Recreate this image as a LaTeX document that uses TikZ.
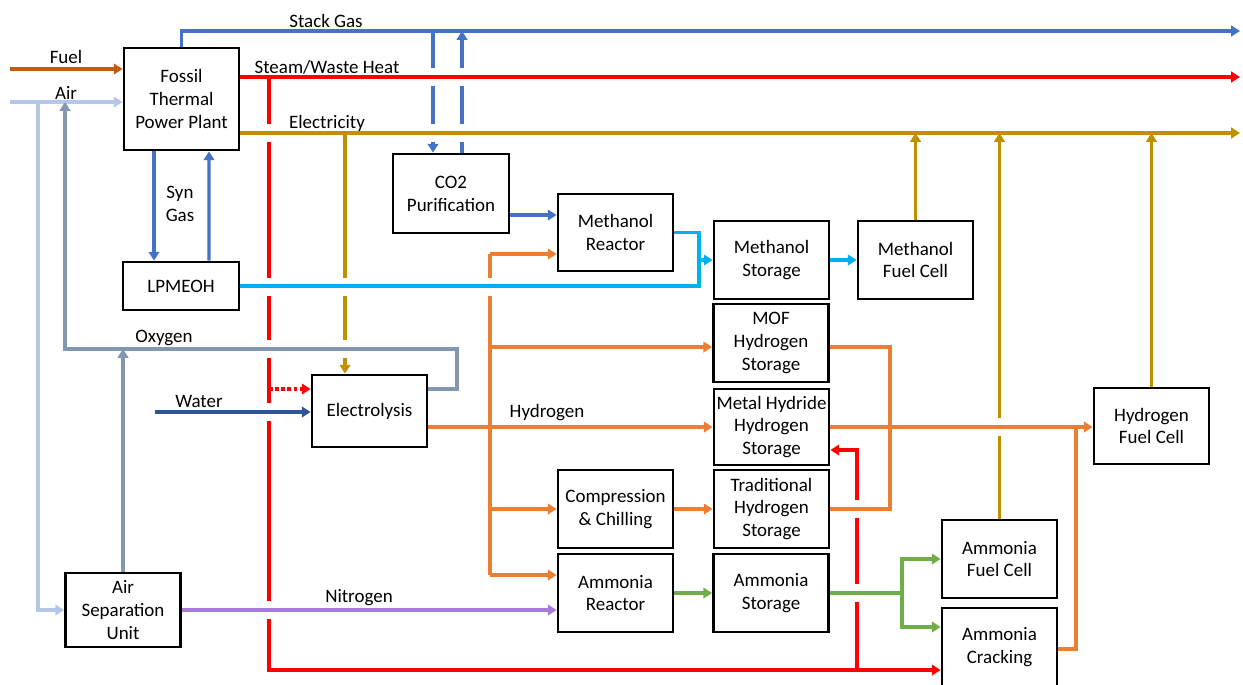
\documentclass[tikz,border=0pt]{standalone}
\usepackage{fontspec}
\setmainfont{Carlito}
\usepackage{tikz}
\usetikzlibrary{calc,arrows.meta}

\definecolor{stackblue}{HTML}{4472C4}
\definecolor{heatred}{HTML}{FF0000}
\definecolor{powergold}{HTML}{BF9000}
\definecolor{methcyan}{HTML}{00B0F0}
\definecolor{htwo}{HTML}{ED7D31}
\definecolor{nhthree}{HTML}{70AD47}
\definecolor{fuelbrown}{HTML}{C55A11}
\definecolor{airblue}{HTML}{B4C7E7}
\definecolor{oxgray}{HTML}{8497B0}
\definecolor{waterblue}{HTML}{2F5597}
\definecolor{ntwo}{HTML}{A97BD9}

\begin{document}
\begin{tikzpicture}[x=0.02cm,y=-0.02cm,
  every node/.style={font=\fontsize{10.8}{13}\selectfont},
  unit/.style={draw,line width=1.6pt,inner sep=0pt,align=center,minimum width=2.3cm,minimum height=1.56cm},
  flow/.style={line width=1.9pt},
  tip/.style={-{Triangle[length=5pt,width=6pt]}},
  lbl/.style={anchor=base,inner sep=0pt}]
\useasboundingbox (0,0) rectangle (1243,684);

%% units
\node[unit,minimum height=2.04cm] (fossil) at (181.5,99) {Fossil\\Thermal\\Power Plant};
\node[unit,minimum height=0.96cm,minimum width=2.32cm] (lpmeoh) at (181,286) {LPMEOH};
\node[unit,minimum width=2.32cm,minimum height=1.58cm] (co2) at (451,193.5) {CO2\\Purification};
\node[unit,minimum height=1.54cm] (mreact) at (615.5,232.5) {Methanol\\Reactor};
\node[unit] (mstore) at (771.5,260) {Methanol\\Storage};
\node[unit] (mfc) at (915.5,260) {Methanol\\Fuel Cell};
\node[unit] (mof) at (771,343) {MOF\\Hydrogen\\Storage};
\node[unit,minimum height=1.52cm] (mhyd) at (771.5,427) {Metal Hydride\\Hydrogen\\Storage};
\node[unit] (trad) at (771.5,509) {Traditional\\Hydrogen\\Storage};
\node[unit] (comp) at (615.5,509) {Compression\\\& Chilling};
\node[unit] (areact) at (615.5,593) {Ammonia\\Reactor};
\node[unit] (astore) at (771,593) {Ammonia\\Storage};
\node[unit,minimum height=1.44cm] (elec) at (369.5,411) {Electrolysis};
\node[unit,minimum height=1.48cm] (asu) at (123,610) {Air\\Separation\\Unit};
\node[unit] (afc) at (999.5,559) {Ammonia\\Fuel Cell};
\node[unit] (acrack) at (999.5,647) {Ammonia\\Cracking};
\node[unit,minimum height=1.52cm] (hfc) at (1151.5,426) {Hydrogen\\Fuel Cell};

%% free ends and bends
\coordinate (fuelin) at (10,69);
\coordinate (airin) at (10,102);
\coordinate (airdrop) at (38,102);
\coordinate (stackend) at (1240,31);
\coordinate (steamend) at (1240,77);
\coordinate (powerend) at (1240,133);
\coordinate (co2in) at (433,31);
\coordinate (co2out) at (462,31);
\coordinate (heattap) at (269,77);
\coordinate (heatbot) at (269,670);
\coordinate (eheat) at (269,389);
\coordinate (mhtap) at (857,670);
\coordinate (powertap) at (345,133);
\coordinate (mjoin) at (699,260);
\coordinate (oxyleft) at (65,349);
\coordinate (oxyright) at (457,349);
\coordinate (waterin) at (155,412);
\coordinate (htop) at (490,254);
\coordinate (hmof) at (490,347);
\coordinate (hbot) at (490,575);
\coordinate (hcol) at (890,509);
\coordinate (hcrack) at (1076,427);
\coordinate (nsplit) at (902,593);
\coordinate (co2m) at ($(co2.east)+(0,21.5)$);
\coordinate (oxyout) at ($(elec.east)+(0,-22)$);
\coordinate (hsrc) at ($(elec.east)+(0,16)$);

%% lines that get broken where others cross
\draw[flow,stackblue,tip] (co2in) -- (co2in |- co2.north);
\draw[flow,stackblue,tip] (co2out |- co2.north) -- (co2out);
\draw[flow,heatred,tip] (heattap) -- (heatbot) -- (heatbot -| acrack.west);
\draw[flow,heatred,tip] (mhtap) |- ($(mhyd.east)+(0,23)$);
\draw[flow,powergold,tip] (powertap) -- (powertap |- elec.north);
\draw[flow,powergold,tip] (afc.north) -- (afc.north |- powerend);
\draw[flow,htwo] (htop) -- (hbot);
\foreach \gx/\gy in {433/77,433/133,462/77,462/133,269/133,269/287,269/349,269/412,269/610,345/287,345/349,490/287,857/509,857/593,999/427}
  \fill[white] (\gx-5,\gy-9) rectangle (\gx+5,\gy+9);

%% plant streams
\draw[flow,fuelbrown,tip] (fuelin) -- (fuelin -| fossil.west);
\draw[flow,airblue,tip] (airin) -- (airin -| fossil.west);
\draw[flow,airblue,tip] (airdrop) |- (asu.west);
\draw[flow,stackblue,tip] (fossil.north) |- (stackend);
\draw[flow,heatred,tip] (steamend -| fossil.east) -- (steamend);
\draw[flow,powergold,tip] (powerend -| fossil.east) -- (powerend);
\draw[flow,stackblue,tip] ($(fossil.south)+(-27.5,0)$) -- ($(lpmeoh.north)+(-27,0)$);
\draw[flow,stackblue,tip] ($(lpmeoh.north)+(28,0)$) -- ($(fossil.south)+(27.5,0)$);

%% methanol
\draw[flow,methcyan,tip] (lpmeoh.east) -| (mjoin) -- (mstore.west);
\draw[flow,methcyan] (mreact.east) -| (mjoin);
\draw[flow,methcyan,tip] (mstore) -- (mfc);
\draw[flow,stackblue,tip] (co2m) -- (co2m -| mreact.west);
\draw[flow,powergold,tip] (mfc.north) -- (mfc.north |- powerend);
\draw[flow,powergold,tip] (hfc.north) -- (hfc.north |- powerend);

%% electrolysis and air separation
\draw[flow,heatred,dash pattern=on 2pt off 1.5pt,tip] (eheat) -- (eheat -| elec.west);
\draw[flow,waterblue,tip] (waterin) -- (waterin -| elec.west);
\draw[flow,oxgray,tip] (oxyout) -| (oxyright) -- (oxyleft) -- (oxyleft |- airin);
\draw[flow,oxgray,tip] (asu.north) -- (asu.north |- oxyleft);
\draw[flow,ntwo,tip] (asu.east) -- (asu.east -| areact.west);

%% hydrogen
\draw[flow,htwo,tip] (hsrc) -- (hsrc -| mhyd.west);
\draw[flow,htwo,tip] (htop) -- (htop -| mreact.west);
\draw[flow,htwo,tip] (hmof) -- (hmof -| mof.west);
\draw[flow,htwo,tip] (comp.west -| htop) -- (comp.west);
\draw[flow,htwo,tip] (hbot) -- (hbot -| areact.west);
\draw[flow,htwo,tip] (comp) -- (trad);
\draw[flow,htwo] (trad.east) -- (hcol) |- (hmof -| mof.east);
\draw[flow,htwo,tip] (mhyd.east) -- (mhyd.east -| hfc.west);
\draw[flow,htwo] ($(acrack.east)+(0,2)$) -| (hcrack);

%% ammonia
\draw[flow,nhthree,tip] (areact) -- (astore);
\draw[flow,nhthree] (astore.east) -- (nsplit);
\draw[flow,nhthree,tip] (nsplit) |- (afc.west);
\draw[flow,nhthree,tip] (nsplit) |- ($(acrack.west)+(0,-20)$);

%% stream labels
\node[lbl] (stacklbl) at (326,27) {Stack Gas};
\node[lbl] (steamlbl) at (327,73) {Steam/Waste Heat};
\node[lbl] (powerlbl) at (327,128) {Electricity};
\node[lbl] (fuellbl) at (66,63) {Fuel};
\node[lbl] (airlbl) at (66,99) {Air};
\node[align=center,inner sep=0pt] (synlbl) at (180,204) {Syn\\Gas};
\node[lbl] (oxylbl) at (164,342) {Oxygen};
\node[lbl] (waterlbl) at (199,407) {Water};
\node[lbl] (hlbl) at (547,417) {Hydrogen};
\node[lbl] (nlbl) at (359,602) {Nitrogen};
\end{tikzpicture}
\end{document}
